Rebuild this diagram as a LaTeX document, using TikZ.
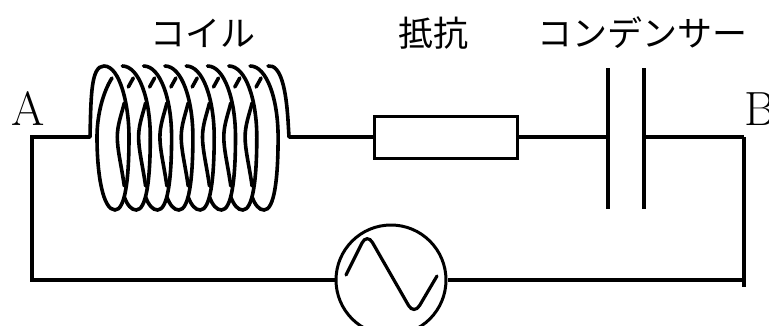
\documentclass[tikz,border=0pt]{standalone}
\usepackage{fontspec}
\newfontfamily\jpfont{Noto Sans CJK JP}
\usetikzlibrary{positioning}

\begin{document}
\begin{tikzpicture}[x=1pt, y=-1pt]
	\tikzstyle{wire} = [line width=4pt, line cap=butt, line join=miter]
	\tikzstyle{turn} = [line width=3.6pt, line cap=round]
	\tikzstyle{jplabel} = [inner sep=0pt, font=\jpfont\fontsize{35}{35}\selectfont]
	\tikzstyle{endlabel} = [inner sep=0pt, font=\fontsize{48}{48}\selectfont]
	\clip (0, 0) rectangle (769, 325);
	\useasboundingbox (0, 0) rectangle (769, 325);
	
	\node[rectangle, draw, line width=3pt, minimum width=143pt, minimum height=42pt, inner sep=0pt] (R) at (445.5, 137) {};
	\node[circle, draw, line width=3pt, minimum size=110pt, inner sep=0pt] (src) at (391, 280) {};
	
	\coordinate (capL) at (608, 137);
	\coordinate (capR) at (644, 137);
	\coordinate (capLt) at (608, 68);
	\coordinate (capLb) at (608, 209);
	\coordinate (capRt) at (644, 68);
	\coordinate (capRb) at (644, 209);
	\coordinate (coilL) at (90, 137);
	\coordinate (coilR) at (289, 137);
	\coordinate (cornerA) at (32, 137);
	\coordinate (cornerB) at (744, 137);
	\coordinate (botA) at (32, 280);
	\coordinate (botB) at (744, 280);
	\coordinate (tailB) at (744, 287);
	
	\node[jplabel] (coiltext) at (203, 33) {コイル};
	\node[jplabel] (restext) at (433, 33) {抵抗};
	\node[jplabel] (captext) at (642, 33) {コンデンサー};
	\node[endlabel, anchor=base west] (A) at (11, 125) {A};
	\node[endlabel, anchor=base west] (B) at (744, 125) {B};
	
	\draw[wire] (coilL) -- (cornerA) -- (botA) -- (src.west);
	\draw[wire] (src.east) -- (botB);
	\draw[wire] (cornerB) -- (tailB);
	\draw[wire] (coilR) -- (R.west);
	\draw[wire] (R.east) -- (capL);
	\draw[wire] (capR) -- (cornerB);
	\draw[wire] (capLt) -- (capLb);
	\draw[wire] (capRt) -- (capRb);
	
	% sine
	\draw[line width=3.2pt, line cap=round, rounded corners=11pt] (346, 275) -- (367, 233) -- (414, 315) -- (437, 276);
	
	% first turn and the lead going into it
	\draw[turn] (coilL) .. controls (91, 95) and (91, 66) .. (104, 66)
		.. controls (120, 66) and (129, 105) .. (129, 137)
		.. controls (129, 180) and (125, 210) .. (115, 210)
		.. controls (103, 210) and (97, 175) .. (97, 137)
		.. controls (97, 115) and (103, 92) .. (112, 78);
	
	% other turns
	\foreach \i in {1,...,7} {
		\begin{scope}[xshift=21.3*\i pt]
			\draw[turn] (101, 66) .. controls (118, 66) and (129, 100) .. (129, 137)
				.. controls (129, 180) and (125, 210) .. (115, 210)
				.. controls (110, 210) and (106, 205) .. (103, 197);
			\draw[turn] (103, 186) .. controls (100, 165) and (96, 150) .. (96, 137)
				.. controls (96, 125) and (100, 115) .. (103, 103);
			\draw[turn] (107, 87) -- (112, 78);
		\end{scope}
	}
	
	% tail
	\draw[turn] (268, 66) .. controls (281, 64) and (286, 90) .. (288, 120) -- (coilR);
\end{tikzpicture}
\end{document}
